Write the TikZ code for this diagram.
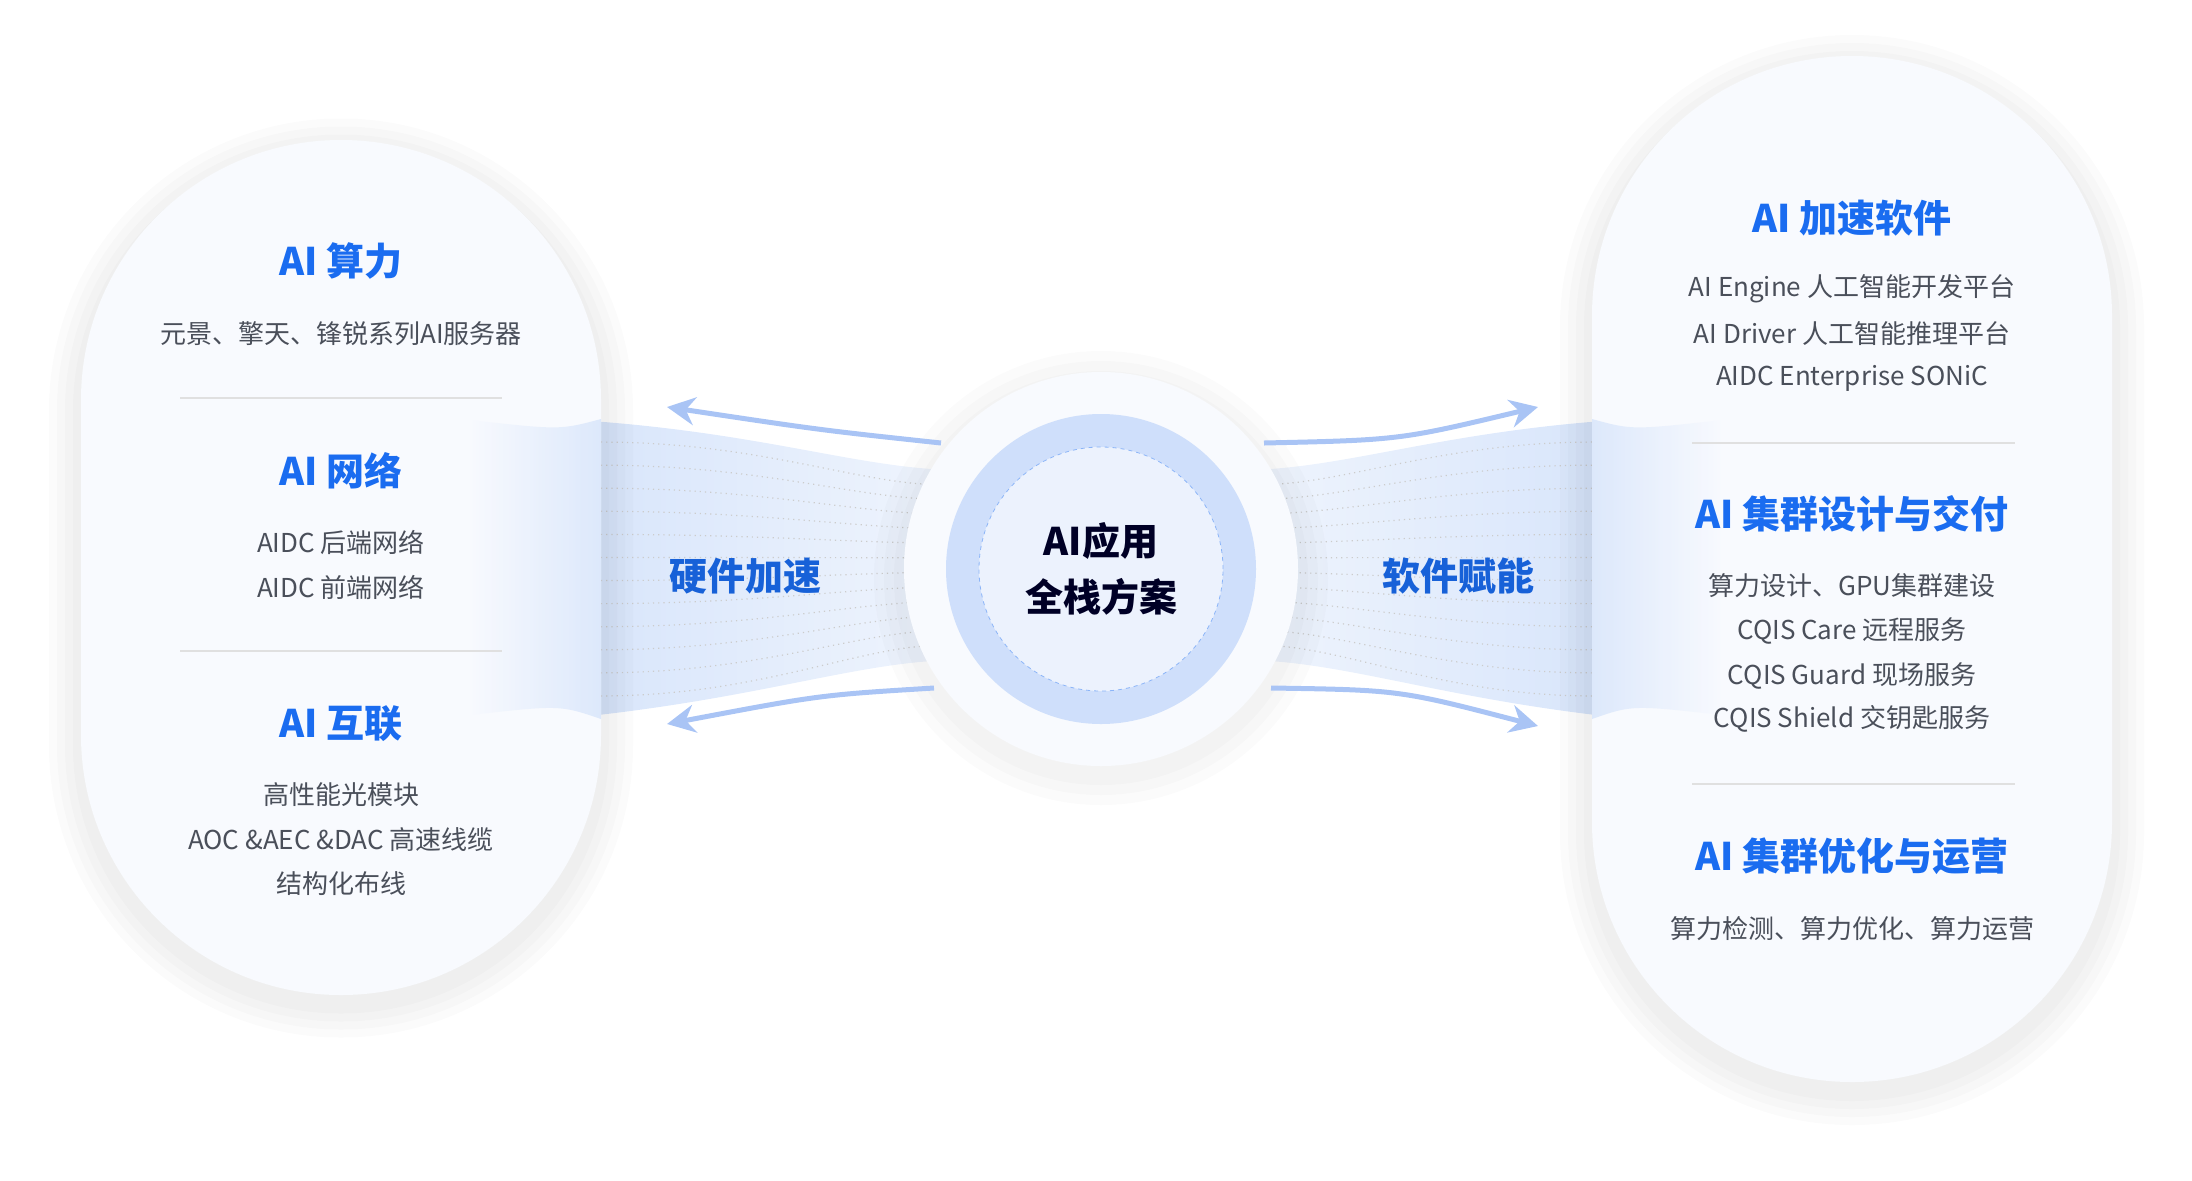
\documentclass[tikz,border=0pt]{standalone}
\usepackage{fontspec}
\setmainfont{Noto Sans CJK SC}
\usetikzlibrary{arrows.meta}
\definecolor{tblue}{HTML}{1A6CF0}
\definecolor{tgrey}{HTML}{4A4F5A}
\definecolor{arr}{HTML}{A9C4F5}
\definecolor{pill}{HTML}{F8FAFE}
\definecolor{ring}{HTML}{CFDFFB}
\definecolor{band}{HTML}{D6E4FB}
\definecolor{bandl}{HTML}{F0F5FD}
\begin{document}
\begin{tikzpicture}[x=0.5pt,y=-0.5pt,
  ttl/.style={text=tblue,font=\fontsize{19}{22}\selectfont\bfseries},
  body/.style={text=tgrey,font=\fontsize{13}{16}\selectfont},
  mid/.style={text=tblue!90!black,font=\fontsize{19}{22}\selectfont\bfseries},
  sep/.style={draw=black!12,line width=1pt},
  ar/.style={draw=arr,line width=2.5pt,-{Stealth[length=14pt,width=14pt]}},
  pl/.style={fill=pill,minimum width=260pt,rounded corners=130pt,inner sep=0},
  sh/.style={fill=black,fill opacity=0.014,rounded corners=#1,inner sep=0}]
\useasboundingbox (0,0) rectangle (2192,1180);
% bands
\shade[left color=band,right color=bandl] (560,419) .. controls (760,430) and (860,470) .. (960,470) -- (960,660) .. controls (860,660) and (760,700) .. (560,719) -- cycle;
\shade[right color=band,left color=bandl] (1632,419) .. controls (1442,430) and (1342,470) .. (1242,470) -- (1242,660) .. controls (1342,660) and (1442,700) .. (1632,719) -- cycle;
\foreach \i in {1,...,12}{
  \pgfmathsetmacro{\a}{419+\i*300/13}\pgfmathsetmacro{\b}{470+\i*190/13}
  \draw[black!20,dotted,line width=0.6pt] (601,\a) .. controls (760,\a) and (860,\b) .. (940,\b);
  \draw[black!20,dotted,line width=0.6pt] (1592,\a) .. controls (1442,\a) and (1342,\b) .. (1262,\b);
}
% shadows + pills
\foreach \d in {8,16,24,32}{
  \node[sh=130pt+\d*0.5pt,minimum width=260pt+\d pt,minimum height=427.5pt+\d pt] at (341,578) {};
  \node[sh=130pt+\d*0.5pt,minimum width=260pt+\d pt,minimum height=513pt+\d pt] at (1852,580) {};
}
\node[pl,minimum height=427.5pt] (L) at (341,567.5) {};
\node[pl,minimum height=513pt] (R) at (1852,569) {};
% glow on pills near band
\shade[left color=pill,right color=band,opacity=0.8] (470,420) .. controls (560,430) .. (601,419) -- (601,719) .. controls (560,705) .. (470,715) -- cycle;
\shade[right color=pill,left color=band,opacity=0.8] (1722,420) .. controls (1632,430) .. (1592,419) -- (1592,719) .. controls (1632,705) .. (1722,715) -- cycle;
% center
\foreach \d in {10,20,30}{\node[circle,fill=black,fill opacity=0.014,minimum size=197pt+\d pt] at (1101,578) {};}
\node[circle,fill=pill,minimum size=197pt] (C0) at (1101,569) {};
\node[circle,fill=ring,minimum size=155pt] (C1) at (1101,569) {};
\node[circle,fill=white!60!ring,draw=tblue!50,dash pattern=on 2pt off 2pt,minimum size=122pt] (C) at (1101,569) {};
\node[text=black!85!blue,font=\fontsize{19}{22}\selectfont\bfseries] at (1101,541) {AI应用};
\node[text=black!85!blue,font=\fontsize{19}{22}\selectfont\bfseries] at (1101,597) {全栈方案};
% arrows
\coordinate (s1) at (941,443);\coordinate (s2) at (934,688);
\coordinate (s3) at (1264,443);\coordinate (s4) at (1271,688);
\coordinate (a1) at (667,407);\coordinate (a2) at (667,724);
\coordinate (a3) at (1538,407);\coordinate (a4) at (1538,726);
\draw[ar] (s1) .. controls (820,430) .. (a1);
\draw[ar] (s2) .. controls (820,695) .. (a2);
\draw[ar] (s3) .. controls (1400,440) .. (a3);
\draw[ar] (s4) .. controls (1400,690) .. (a4);
\node[mid] at (745,576) {硬件加速};
\node[mid] at (1458,576) {软件赋能};
% left text
\node[ttl] at (341,261) {AI 算力};
\node[body] at (341,334) {元景、擎天、锋锐系列AI服务器};
\draw[sep] (180,398) -- (502,398);
\node[ttl] at (341,471) {AI 网络};
\node[body] at (341,542) {AIDC 后端网络};
\node[body] at (341,587) {AIDC 前端网络};
\draw[sep] (180,651) -- (502,651);
\node[ttl] at (341,724) {AI 互联};
\node[body] at (341,795) {高性能光模块};
\node[body] at (341,840) {AOC \&AEC \&DAC 高速线缆};
\node[body] at (341,884) {结构化布线};
% right text
\node[ttl] at (1852,218) {AI 加速软件};
\node[body] at (1852,289) {AI Engine 人工智能开发平台};
\node[body] at (1852,334) {AI Driver 人工智能推理平台};
\node[body] at (1852,378) {AIDC Enterprise SONiC};
\draw[sep] (1692,443) -- (2015,443);
\node[ttl] at (1852,514) {AI 集群设计与交付};
\node[body] at (1852,586) {算力设计、GPU集群建设};
\node[body] at (1852,631) {CQIS Care 远程服务};
\node[body] at (1852,676) {CQIS Guard 现场服务};
\node[body] at (1852,719) {CQIS Shield 交钥匙服务};
\draw[sep] (1692,784) -- (2015,784);
\node[ttl] at (1852,856) {AI 集群优化与运营};
\node[body] at (1852,929) {算力检测、算力优化、算力运营};
\end{tikzpicture}
\end{document}
